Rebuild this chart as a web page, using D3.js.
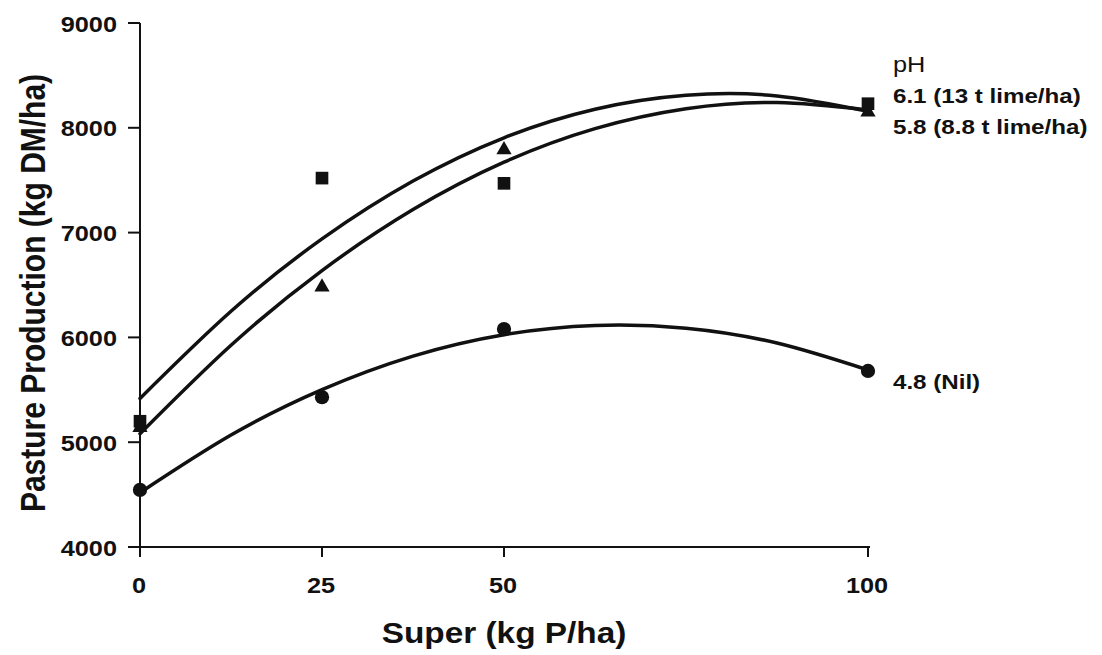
<!DOCTYPE html>
<html>
<head>
<meta charset="utf-8">
<script src="https://cdn.jsdelivr.net/npm/d3@7"></script>
<style>
  html, body { margin: 0; padding: 0; background: #fff; }
  svg { display: block; }
  text { font-family: "Liberation Sans", Arial, Helvetica, sans-serif; fill: #111; }
</style>
</head>
<body>
<svg id="chart" width="1102" height="655"></svg>
<script>
// ---- data ----
const superRates = [0, 25, 50, 100];                 // kg P/ha
const xTickLabels = ["0", "25", "50", "100"];
const yTicks = [4000, 5000, 6000, 7000, 8000, 9000];

const obsPH61 = [5200, 7520, 7470, 8230];            // squares, pH 6.1 (13 t lime/ha)
const obsPH58 = [5140, 6480, 7790, 8150];            // triangles, pH 5.8 (8.8 t lime/ha)
const obsPH48 = [4545, 5430, 6080, 5680];            // circles, pH 4.8 (Nil)

// fitted response curves, read at these rates
const curveX    = [0, 12.5, 25, 37.5, 50, 62.5, 75, 87.5, 100];
const curvePH61 = [5417, 6249, 6940, 7492, 7905, 8177, 8310, 8304, 8157];
const curvePH58 = [5081, 5925, 6638, 7220, 7672, 7992, 8182, 8241, 8170];
const curvePH48 = [4518, 5068, 5502, 5822, 6026, 6114, 6088, 5946, 5689];

const seriesLabels = ["6.1 (13 t lime/ha)", "5.8 (8.8 t lime/ha)", "4.8 (Nil)"];
const legendTitle = "pH";
const xTitle = "Super (kg P/ha)";
const yTitle = "Pasture Production (kg DM/ha)";

// ---- layout ----
const svg = d3.select("#chart");
const SX = 1.15; // horizontal stretch of the lettering
const x = d3.scaleLinear().domain([0, 100]).range([140, 868]);
const y = d3.scaleLinear().domain([4000, 9000]).range([547, 23]);

// axes lines
const axes = svg.append("g").attr("stroke", "#111").attr("stroke-width", 2);
axes.append("line").attr("x1", x(0)).attr("x2", x(0)).attr("y1", y(9000)).attr("y2", y(4000));
axes.append("line").attr("x1", x(0)).attr("x2", x(100) + 2).attr("y1", y(4000)).attr("y2", y(4000));
// y ticks
axes.selectAll(".yt").data(yTicks).join("line")
  .attr("x1", x(0) - 12).attr("x2", x(0)).attr("y1", d => y(d)).attr("y2", d => y(d));
// x ticks
axes.selectAll(".xt").data(superRates).join("line")
  .attr("x1", d => x(d)).attr("x2", d => x(d)).attr("y1", y(4000)).attr("y2", y(4000) + 10);

// y tick labels
svg.selectAll(".ylab").data(yTicks).join("text")
  .attr("transform", d => `translate(117,${y(d) + 8.5}) scale(${SX},1)`)
  .attr("text-anchor", "end").attr("font-size", 22).attr("font-weight", "bold")
  .text(d => d);

// x tick labels
svg.selectAll(".xlab").data(superRates).join("text")
  .attr("transform", (d, i) => `translate(${x(d) - 1},593) scale(${SX},1)`)
  .attr("text-anchor", "middle").attr("font-size", 22).attr("font-weight", "bold")
  .text((d, i) => xTickLabels[i]);

// axis titles
svg.append("text")
  .attr("transform", `translate(504,643) scale(${SX},1)`)
  .attr("text-anchor", "middle").attr("font-size", 29).attr("font-weight", "bold")
  .text(xTitle);
svg.append("text")
  .attr("transform", `translate(45,293) scale(${SX},1) rotate(-90)`)
  .attr("text-anchor", "middle").attr("font-size", 30).attr("font-weight", "bold")
  .text(yTitle);

// curves
const line = d3.line().x((d, i) => x(curveX[i])).y(d => y(d)).curve(d3.curveNatural);
[curvePH61, curvePH58, curvePH48].forEach(c => {
  svg.append("path").attr("d", line(c))
    .attr("fill", "none").attr("stroke", "#111").attr("stroke-width", 3.5)
    .attr("stroke-linecap", "round");
});

// markers
const sym = [
  { data: obsPH61, type: d3.symbolSquare, size: 160 },
  { data: obsPH58, type: d3.symbolTriangle, size: 100 },
  { data: obsPH48, type: d3.symbolCircle, size: 160 }
];
sym.forEach(s => {
  svg.selectAll(null).data(s.data).join("path")
    .attr("d", d3.symbol().type(s.type).size(s.size))
    .attr("transform", (d, i) => `translate(${x(superRates[i])},${y(d)})`)
    .attr("fill", "#111");
});

// series labels
svg.append("text").attr("transform", `translate(893,72) scale(${SX},1)`)
  .attr("font-size", 22).text(legendTitle);
const labelY = [103, 134, 389];
seriesLabels.forEach((t, i) => {
  svg.append("text").attr("transform", `translate(893,${labelY[i]}) scale(${SX},1)`)
    .attr("font-size", 21).attr("font-weight", "bold").text(t);
});
</script>
</body>
</html>
